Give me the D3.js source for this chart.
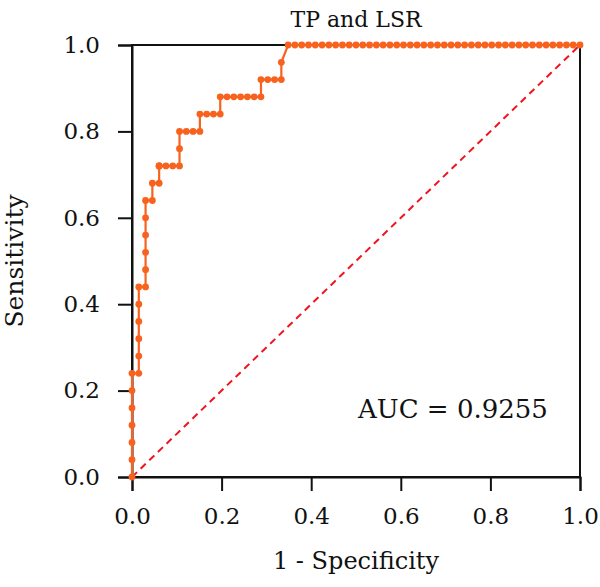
<!DOCTYPE html>
<html>
<head>
<meta charset="utf-8">
<script src="https://cdn.jsdelivr.net/npm/d3@7"></script>
<style>
  html, body { margin: 0; padding: 0; background: #fff; }
  svg { display: block; }
  text { font-family: "DejaVu Serif", "Liberation Serif", serif; fill: #111; }
</style>
</head>
<body>
<svg id="chart" width="600" height="587"></svg>
<script>
// ROC points: false-positive count (of 66 negatives) and true-positive count (of 25 positives)
const nNeg = 66;
const nPos = 25;
const fpCounts = [0,0,0,0,0,0,0, 1,1,1,1,1,1, 2,2,2,2,2,2, 3,3, 4,4,4,4, 5,6,7,7,7, 8,9,10,10, 11,12,13,13,
  14,15,16,17,18,19,19, 20,21,22,22, 23,
  24,25,26,27,28,29,30,31,32,33,34,35,36,37,38,39,40,41,42,43,44,45,46,47,48,49,50,51,52,53,54,55,56,57,58,59,60,61,62,63,64,65,66];
const tpCounts = [0,1,2,3,4,5,6, 6,7,8,9,10,11, 11,12,13,14,15,16, 16,17, 17,18,18,18, 18,18,18,19,20, 20,20,20,21, 21,21,21,22,
  22,22,22,22,22,22,23, 23,23,23,24, 25,
  25,25,25,25,25,25,25,25,25,25,25,25,25,25,25,25,25,25,25,25,25,25,25,25,25,25,25,25,25,25,25,25,25,25,25,25,25,25,25,25,25,25,25];
const xTicks = [0, 0.2, 0.4, 0.6, 0.8, 1.0];
const yTicks = [0, 0.2, 0.4, 0.6, 0.8, 1.0];
const title = "TP and LSR";
const xLabel = "1 - Specificity";
const yLabel = "Sensitivity";
const aucText = "AUC = 0.9255";

const points = fpCounts.map((f, i) => ({ x: f / nNeg, y: tpCounts[i] / nPos }));

const svg = d3.select("#chart");
const margin = { left: 132, right: 20, top: 45, bottom: 110 };
const W = 600, H = 587;
const x = d3.scaleLinear().domain([0, 1]).range([margin.left, W - margin.right]);
const y = d3.scaleLinear().domain([0, 1]).range([H - margin.bottom, margin.top]);

// frame
svg.append("rect")
  .attr("x", x(0)).attr("y", y(1))
  .attr("width", x(1) - x(0)).attr("height", y(0) - y(1))
  .attr("fill", "none").attr("stroke", "#111").attr("stroke-width", 2);

// axes
const xAxis = svg.append("g").attr("transform", `translate(0,${y(0)})`)
  .call(d3.axisBottom(x).tickValues(xTicks).tickFormat(d3.format(".1f")).tickSize(14).tickPadding(17));
const yAxis = svg.append("g").attr("transform", `translate(${x(0)},0)`)
  .call(d3.axisLeft(y).tickValues(yTicks).tickFormat(d3.format(".1f")).tickSize(14).tickPadding(18));
[xAxis, yAxis].forEach(g => {
  g.select(".domain").attr("stroke", "#111").attr("stroke-width", 2);
  g.selectAll(".tick line").attr("stroke", "#111").attr("stroke-width", 2);
  g.selectAll(".tick text").attr("font-size", 23).attr("fill", "#111")
    .attr("font-family", "'DejaVu Serif', 'Liberation Serif', serif");
});

// diagonal reference
svg.append("line")
  .attr("x1", x(0)).attr("y1", y(0)).attr("x2", x(1)).attr("y2", y(1))
  .attr("stroke", "#f0141e").attr("stroke-width", 2).attr("stroke-dasharray", "7,5");

// ROC step line
const line = d3.line().x(d => x(d.x)).y(d => y(d.y));
svg.append("path").datum(points)
  .attr("d", line).attr("fill", "none")
  .attr("stroke", "#f7631e").attr("stroke-width", 2.2);

svg.append("g").selectAll("circle").data(points).join("circle")
  .attr("cx", d => x(d.x)).attr("cy", d => y(d.y)).attr("r", 3.4)
  .attr("fill", "#f7631e");

// texts
svg.append("text").attr("x", (x(0) + x(1)) / 2).attr("y", 27)
  .attr("text-anchor", "middle").attr("font-size", 22).text(title);
svg.append("text").attr("x", (x(0) + x(1)) / 2).attr("y", 569)
  .attr("text-anchor", "middle").attr("font-size", 24).text(xLabel);
svg.append("text")
  .attr("transform", `translate(23,${(y(0) + y(1)) / 2}) rotate(-90)`)
  .attr("text-anchor", "middle").attr("font-size", 25).text(yLabel);
svg.append("text").attr("x", 358).attr("y", 418)
  .attr("font-size", 26).text(aucText);
</script>
</body>
</html>
